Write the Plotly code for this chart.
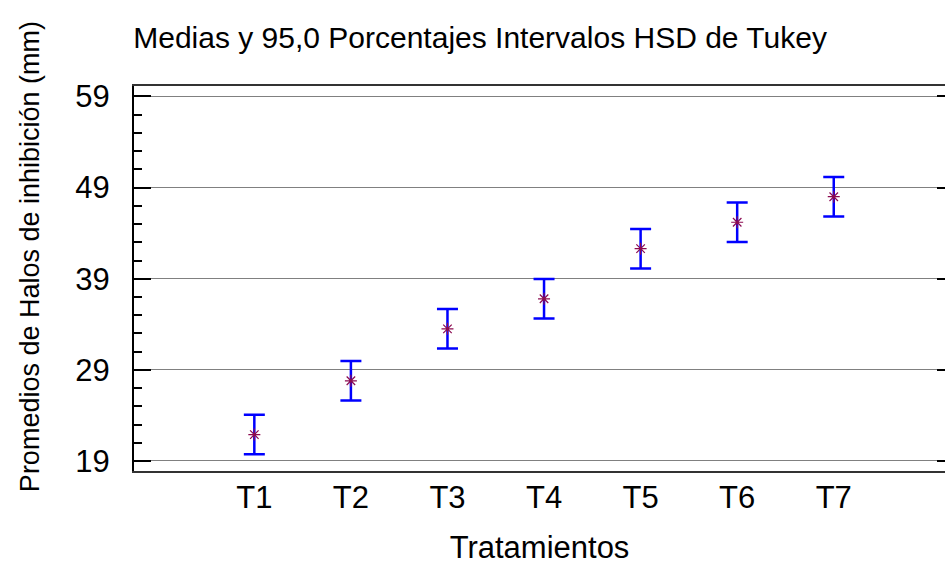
import plotly.graph_objects as go

categories = ["T1", "T2", "T3", "T4", "T5", "T6", "T7"]
means = [21.9, 27.8, 33.5, 36.8, 42.3, 45.2, 48.0]
half_interval = [2.17, 2.17, 2.17, 2.17, 2.17, 2.17, 2.17]
y_ticks = [19, 29, 39, 49, 59]

title_text = "Medias y 95,0 Porcentajes Intervalos HSD de Tukey"
x_title = "Tratamientos"
y_title = "Promedios de Halos de inhibición (mm)"

font_main = "Liberation Sans, Arial, sans-serif"

fig = go.Figure()
fig.add_trace(go.Scatter(
    x=categories, y=means, mode="markers",
    marker=dict(symbol="asterisk-open", size=10, color="#8B0A50",
                line=dict(color="#8B0A50", width=1.2)),
    error_y=dict(type="data", array=half_interval, symmetric=True,
                 color="#0000FF", thickness=2.5, width=10.5),
    showlegend=False, hoverinfo="x+y",
))
# invisible trace to create right mirror axis
fig.add_trace(go.Scatter(x=categories, y=means, yaxis="y2", mode="markers",
                         marker=dict(opacity=0), showlegend=False, hoverinfo="skip"))

fig.update_layout(
    width=945, height=565,
    margin=dict(l=134, r=0, t=86, b=94),
    paper_bgcolor="white", plot_bgcolor="white",
    title=dict(text=title_text, x=0.508, xanchor="center", y=0.933, yanchor="middle",
               font=dict(family=font_main, size=30, color="black")),
    xaxis=dict(
        type="category", range=[-1.246, 7.152],
        showgrid=False, ticks="", showline=True, linecolor="#333333", linewidth=2,
        mirror=True, ticklabelstandoff=-2,
        tickfont=dict(family=font_main, size=31, color="black"),
        title=dict(text=x_title, font=dict(family=font_main, size=31, color="black"), standoff=27),
    ),
    yaxis=dict(
        range=[17.9, 60.15], tickvals=y_ticks, ticktext=[str(v) for v in y_ticks],
        ticks="inside", ticklen=17, tickwidth=2, tickcolor="black",
        minor=dict(dtick=2, tick0=19, ticks="inside", ticklen=8, tickwidth=2, tickcolor="black", showgrid=False),
        showgrid=True, gridcolor="#808080", gridwidth=1,
        showline=True, linecolor="black", linewidth=2, zeroline=False,
        ticklabelstandoff=16,
        tickfont=dict(family=font_main, size=31, color="black"),
    ),
    yaxis2=dict(
        overlaying="y", side="right", matches="y", range=[17.9, 60.15],
        tickvals=y_ticks, showticklabels=False, ticks="inside", ticklen=8, tickwidth=2,
        tickcolor="black", showgrid=False, showline=False, zeroline=False,
    ),
    annotations=[dict(
        text=y_title, textangle=-90, xref="paper", yref="paper",
        x=-0.128, y=0.556, xanchor="center", yanchor="middle", showarrow=False,
        font=dict(family=font_main, size=27, color="black"),
    )],
)

fig.write_html("out.html", config={"displayModeBar": False},
               post_script="document.body.style.margin='0';")
